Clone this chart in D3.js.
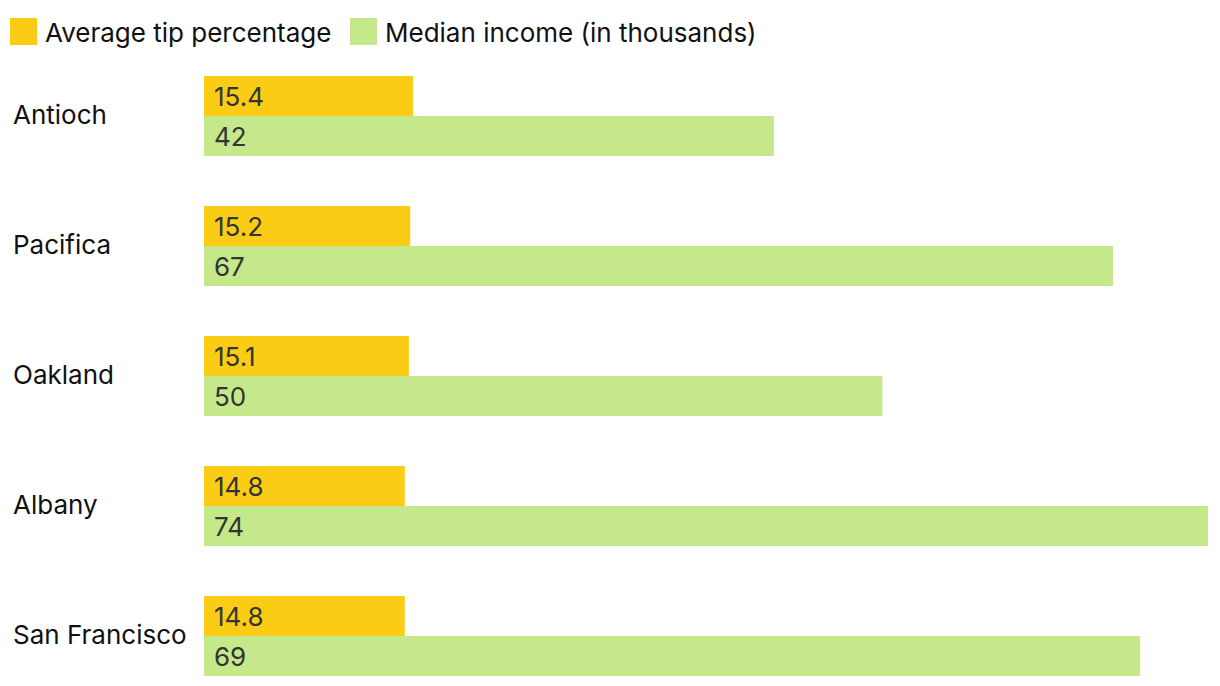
<!DOCTYPE html>
<html><head><meta charset="utf-8">
<script src="https://cdn.jsdelivr.net/npm/d3@7"></script>
<style>body{margin:0;background:#fff;font-family:Inter,sans-serif}</style>
</head><body><svg id="c" width="1220" height="686"></svg>
<script>
const categories = ["Antioch","Pacifica","Oakland","Albany","San Francisco"];
const tipPct = [15.4,15.2,15.1,14.8,14.8];
const income = [42,67,50,74,69];
const seriesNames = ["Average tip percentage","Median income (in thousands)"];
const colors = ["#facc15","#c5e98a"];

const svg = d3.select("#c");
const x = d3.scaleLinear().domain([0,74]).range([204,1208]);
const y = d3.scaleBand().domain(categories).range([76,726]).paddingInner(0).paddingOuter(0);
const inner = d3.scaleBand().domain([0,1]).range([0,80]);
const series = [tipPct, income];

// legend
const lx = [10,350];
seriesNames.forEach((n,i)=>{
  svg.append("rect").attr("x",lx[i]).attr("y",18).attr("width",27).attr("height",27).attr("fill",colors[i]);
  svg.append("text").attr("x",lx[i]+35).attr("y",42).attr("font-size",26).attr("fill","#111").text(n);
});

const g = svg.append("g");
categories.forEach((c,ci)=>{
  const y0 = y(c);
  g.append("text").attr("x",13).attr("y",y0+48).attr("font-size",26).attr("fill","#111").text(c);
  series.forEach((s,si)=>{
    g.append("rect").attr("x",x(0)).attr("y",y0+inner(si)).attr("width",x(s[ci])-x(0)).attr("height",inner.bandwidth()).attr("fill",colors[si]);
    g.append("text").attr("x",x(0)+10).attr("y",y0+inner(si)+inner.bandwidth()/2+10).attr("font-size",26).attr("fill","#333").text(s[ci]);
  });
});
</script></body></html>
